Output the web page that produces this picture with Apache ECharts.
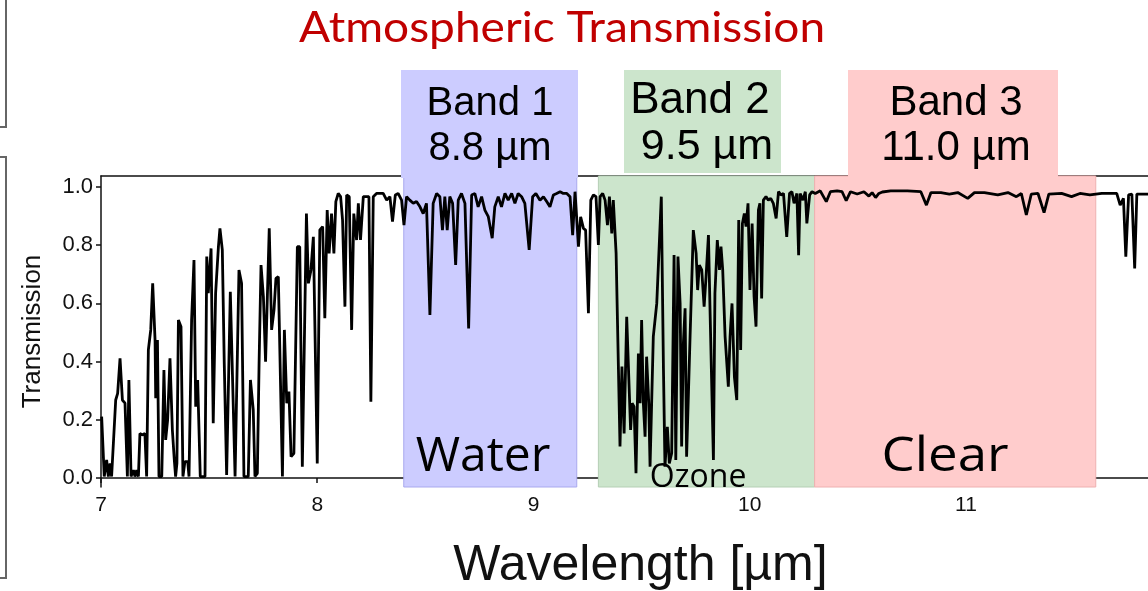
<!DOCTYPE html>
<html><head><meta charset="utf-8">
<script src="https://cdn.jsdelivr.net/npm/echarts@6/dist/echarts.min.js"></script>
<style>html,body{margin:0;padding:0;background:#fff}#c{width:1148px;height:591px}</style>
</head><body><div id="c"></div><script>
const wavelength = [
7.003,7.015,7.026,7.034,7.042,7.049,7.057,7.068,7.077,7.088,7.099,7.111,7.122,7.129,7.139,7.150,7.157,7.165,7.173,7.180,
7.191,7.203,7.211,7.219,7.230,7.239,7.250,7.253,7.261,7.268,7.281,7.291,7.299,7.308,7.319,7.330,7.339,7.345,7.351,7.358,
7.370,7.379,7.388,7.401,7.407,7.419,7.430,7.438,7.447,7.459,7.481,7.489,7.496,7.509,7.519,7.530,7.543,7.550,7.561,7.570,
7.581,7.598,7.620,7.638,7.650,7.661,7.681,7.691,7.704,7.712,7.723,7.731,7.740,7.751,7.761,7.778,7.789,7.800,7.809,7.820,
7.839,7.848,7.859,7.869,7.879,7.892,7.908,7.919,7.931,7.950,7.959,7.971,7.982,8.000,8.012,8.025,8.035,8.046,8.055,8.066,
8.077,8.086,8.097,8.108,8.117,8.128,8.136,8.148,8.159,8.169,8.182,8.190,8.200,8.213,8.228,8.239,8.248,8.259,8.274,8.290,
8.305,8.321,8.336,8.348,8.361,8.374,8.390,8.401,8.413,8.428,8.444,8.459,8.475,8.490,8.505,8.521,8.536,8.552,8.567,8.579,
8.590,8.601,8.613,8.626,8.640,8.652,8.667,8.683,8.700,8.714,8.729,8.744,8.760,8.775,8.791,8.809,8.821,8.837,8.852,8.868,
8.883,8.899,8.914,8.929,8.945,8.960,8.980,8.996,9.011,9.030,9.046,9.061,9.076,9.092,9.107,9.123,9.138,9.154,9.169,9.181,
9.192,9.208,9.218,9.231,9.241,9.254,9.265,9.277,9.289,9.300,9.308,9.320,9.331,9.342,9.351,9.362,9.369,9.382,9.400,9.409,
9.419,9.431,9.440,9.449,9.456,9.465,9.474,9.485,9.493,9.500,9.508,9.516,9.523,9.533,9.539,9.554,9.570,9.591,9.601,9.608,
9.619,9.628,9.639,9.650,9.658,9.668,9.678,9.685,9.693,9.701,9.708,9.724,9.739,9.752,9.759,9.767,9.778,9.789,9.798,9.809,
9.816,9.832,9.839,9.850,9.860,9.867,9.875,9.886,9.901,9.909,9.918,9.929,9.940,9.949,9.958,9.966,9.975,9.983,9.992,10.001,
10.011,10.020,10.029,10.040,10.047,10.055,10.063,10.075,10.086,10.097,10.109,10.122,10.133,10.144,10.156,10.171,10.184,10.195,10.205,10.218,
10.226,10.233,10.246,10.257,10.264,10.277,10.288,10.303,10.326,10.354,10.373,10.404,10.427,10.446,10.466,10.497,10.528,10.551,10.566,10.582,
10.597,10.613,10.652,10.729,10.791,10.817,10.838,10.884,10.923,10.962,11.008,11.039,11.085,11.147,11.194,11.233,11.256,11.279,11.302,11.333,
11.361,11.383,11.442,11.488,11.527,11.573,11.628,11.697,11.713,11.728,11.739,11.752,11.767,11.780,11.790,11.845
];
const transmission = [
0.211,0.005,0.062,0.005,0.050,0.005,0.005,0.268,0.291,0.411,0.268,0.257,0.005,0.337,0.005,0.027,0.005,0.027,0.005,0.153,
0.148,0.153,0.005,0.440,0.509,0.669,0.474,0.274,0.474,0.005,0.005,0.371,0.131,0.199,0.411,0.165,0.062,0.005,0.050,0.543,
0.520,0.005,0.056,0.056,0.005,0.543,0.749,0.245,0.337,0.005,0.005,0.761,0.635,0.789,0.188,0.635,0.795,0.858,0.784,0.394,
0.010,0.640,0.005,0.715,0.669,0.005,0.005,0.337,0.234,0.005,0.016,0.394,0.732,0.623,0.400,0.858,0.509,0.577,0.686,0.692,
0.005,0.509,0.257,0.297,0.073,0.085,0.795,0.795,0.039,0.909,0.669,0.715,0.829,0.050,0.853,0.864,0.549,0.921,0.772,0.909,
0.772,0.950,0.978,0.967,0.887,0.589,0.973,0.967,0.509,0.909,0.818,0.944,0.818,0.967,0.967,0.967,0.262,0.967,0.978,0.978,
0.978,0.955,0.967,0.881,0.973,0.978,0.955,0.869,0.967,0.955,0.944,0.950,0.932,0.909,0.944,0.560,0.944,0.978,0.967,0.852,
0.967,0.852,0.967,0.944,0.732,0.955,0.978,0.944,0.514,0.973,0.978,0.932,0.967,0.921,0.898,0.824,0.932,0.967,0.932,0.978,
0.955,0.978,0.944,0.978,0.967,0.944,0.784,0.967,0.978,0.955,0.967,0.950,0.932,0.973,0.978,0.984,0.978,0.978,0.967,0.835,
0.984,0.795,0.898,0.858,0.852,0.566,0.955,0.973,0.967,0.801,0.967,0.978,0.955,0.869,0.967,0.841,0.955,0.772,0.108,0.383,
0.153,0.554,0.554,0.165,0.257,0.245,0.016,0.428,0.257,0.543,0.257,0.142,0.417,0.257,0.039,0.486,0.600,0.967,0.371,0.039,
0.176,0.050,0.085,0.766,0.062,0.761,0.600,0.108,0.463,0.583,0.073,0.486,0.852,0.772,0.646,0.732,0.715,0.589,0.692,0.835,
0.589,0.062,0.635,0.818,0.715,0.795,0.715,0.486,0.314,0.486,0.600,0.348,0.268,0.887,0.440,0.875,0.909,0.864,0.944,0.646,
0.875,0.623,0.520,0.921,0.944,0.617,0.955,0.967,0.955,0.961,0.944,0.892,0.984,0.973,0.978,0.829,0.978,0.984,0.944,0.978,
0.766,0.978,0.955,0.984,0.875,0.973,0.984,0.978,0.987,0.950,0.984,0.987,0.984,0.953,0.984,0.976,0.984,0.969,0.981,0.964,
0.978,0.983,0.987,0.987,0.984,0.938,0.981,0.981,0.976,0.981,0.961,0.981,0.981,0.973,0.981,0.967,0.978,0.904,0.976,0.978,
0.912,0.976,0.978,0.967,0.978,0.973,0.978,0.978,0.938,0.961,0.761,0.973,0.976,0.720,0.976,0.976
];
const xTicks = [7, 8, 9, 10, 11];
const yTicks = [0, 0.2, 0.4, 0.6, 0.8, 1.0];
const bandRanges = [[8.4, 9.2], [9.3, 10.3], [10.3, 11.6]];
const bandNames = ['Water', 'Ozone', 'Clear'];
const bandTitles = [['Band 1', '8.8 µm'], ['Band 2', '9.5 µm'], ['Band 3', '11.0 µm']];

const fills = ['#ccccff', '#cce5cc', '#ffcccc'];
const edges = ['#a9a9ee', '#b5cfb5', '#eeb0b0'];

const chart = echarts.init(document.getElementById('c'), null, {renderer: 'canvas'});
const X0 = 7, X1 = 7 + 1047 / 216.25;
const Y0 = -0.031, Y1 = 1.038;

const ARIAL = '"Liberation Sans", Arial, sans-serif';
const NARROW = '"Liberation Sans Narrow", "Arial Narrow", "Liberation Sans", Arial, sans-serif';
const GEO = '"Open Sans", "Noto Sans", sans-serif';

function txt(text, x, y, size, family, color, extra) {
  return Object.assign({
    type: 'text', x: x, y: y, z: 200,
    style: {text: text, fontSize: size, fontFamily: family, fill: color || '#000',
            align: 'center', verticalAlign: 'middle'}
  }, extra || {});
}

const graphics = [
  {type: 'polyline', z: 5, shape: {points: [[6, 0], [6, 127], [0, 127]]}, style: {stroke: '#666', lineWidth: 2, fill: null}},
  {type: 'polyline', z: 5, shape: {points: [[0, 157], [6, 157], [6, 578], [0, 578]]}, style: {stroke: '#666', lineWidth: 2, fill: null}},
  {type: 'rect', z: 150, shape: {x: 401, y: 70, width: 177, height: 108}, style: {fill: fills[0]}},
  {type: 'rect', z: 150, shape: {x: 624, y: 70, width: 157, height: 103}, style: {fill: fills[1]}},
  {type: 'rect', z: 150, shape: {x: 848, y: 70, width: 210, height: 108}, style: {fill: fills[2]}},
  txt(bandTitles[0][0], 490, 104, 40, ARIAL),
  txt(bandTitles[0][1], 490, 149, 40, ARIAL),
  txt(bandTitles[1][0], 700, 101, 44, ARIAL),
  txt(bandTitles[1][1], 707, 147, 43, ARIAL),
  txt(bandTitles[2][0], 956, 103, 42, ARIAL),
  txt(bandTitles[2][1], 956, 148, 42, ARIAL),
  txt(bandNames[0], 483, 457, 48, GEO),
  txt(bandNames[1], 698, 478, 32, GEO),
  txt(bandNames[2], 945, 457, 48, GEO, null, {scaleX: 1.1}),
  txt('Atmospheric Transmission', 562, 28, 42, 'Lato, "Open Sans", sans-serif', '#c00000', {scaleX: 1.096})
];

const option = {
  animation: false,
  backgroundColor: '#fff',
  grid: {left: 101, right: 0, top: 176, bottom: 104, containLabel: false, outerBoundsMode: 'none'},
  xAxis: [{
    type: 'value', min: X0, max: X1, position: 'bottom',
    name: 'Wavelength [µm]', nameLocation: 'middle', nameGap: 54,
    nameTextStyle: {fontSize: 50, fontFamily: ARIAL, color: '#111', padding: [0, 0, 0, 32]},
    axisLine: {show: true, lineStyle: {color: '#111', width: 1.5}},
    axisTick: {show: true, length: 5, lineStyle: {color: '#111', width: 1.5}, customValues: xTicks},
    axisLabel: {show: true, fontSize: 21, fontFamily: NARROW, color: '#111', margin: 8, customValues: xTicks},
    splitLine: {show: false}
  }, {
    type: 'value', min: X0, max: X1, position: 'top',
    axisLine: {show: true, onZero: false, lineStyle: {color: '#111', width: 1.5}},
    axisTick: {show: false}, axisLabel: {show: false}, splitLine: {show: false}
  }],
  yAxis: {
    type: 'value', min: Y0, max: Y1,
    name: 'Transmission', nameLocation: 'middle', nameGap: 55, nameRotate: 90,
    nameTextStyle: {fontSize: 26, fontFamily: ARIAL, color: '#111'},
    axisLine: {show: true, lineStyle: {color: '#111', width: 1.5}},
    axisTick: {show: true, length: 5, lineStyle: {color: '#111', width: 1.5}, customValues: yTicks},
    axisLabel: {show: true, fontSize: 22, fontFamily: NARROW, color: '#111', margin: 8,
                customValues: yTicks, formatter: v => v.toFixed(1)},
    splitLine: {show: false}
  },
  series: [{
    type: 'line', xAxisIndex: 0,
    data: wavelength.map((w, i) => [w, transmission[i]]),
    showSymbol: false, symbol: 'none',
    lineStyle: {color: '#000', width: 2.8},
    clip: true, z: 10,
    markArea: {
      silent: true,
      data: bandRanges.map((r, i) => [
        {xAxis: r[0], itemStyle: {color: fills[i], borderColor: edges[i], borderWidth: 1}},
        {xAxis: r[1]}
      ])
    }
  }],
  graphic: graphics
};
chart.setOption(option);
</script></body></html>
